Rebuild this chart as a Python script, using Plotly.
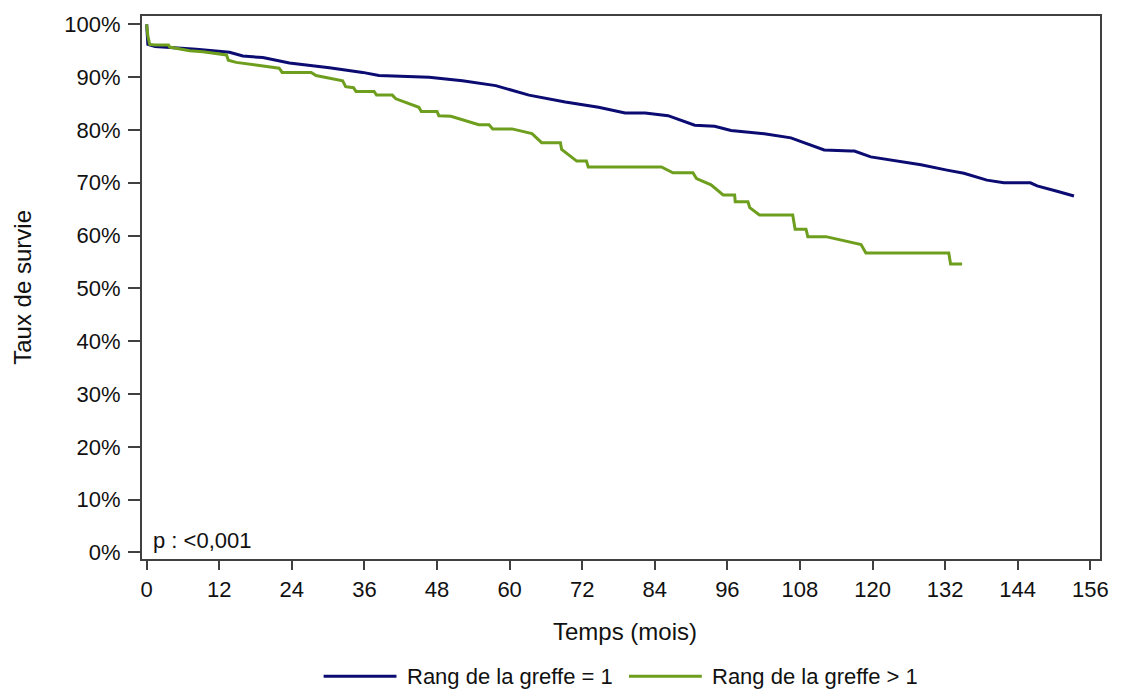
import plotly.graph_objects as go

# Data (months, survival %)
rang1_t = [0, 0.2, 1.4, 8.2, 13.7, 15.9, 19.2, 23.6, 30.2, 35.7, 38.4, 46.7, 52.2, 57.7,
           63.2, 69.2, 74.7, 79.1, 82.4, 86.2, 90.6, 93.9, 96.6, 102.1, 106.5, 112.0,
           116.4, 117.0, 119.7, 124.1, 128.0, 132.3, 135.1, 138.9, 141.7, 146.1, 147.2,
           150.5, 153.3]
rang1_s = [100, 96.2, 95.8, 95.3, 94.7, 94.0, 93.7, 92.7, 91.8, 90.9, 90.3, 90.0, 89.3, 88.4,
           86.6, 85.3, 84.3, 83.2, 83.2, 82.7, 80.9, 80.7, 79.9, 79.3, 78.5, 76.2,
           76.0, 76.0, 74.9, 74.1, 73.4, 72.4, 71.8, 70.5, 70.0, 70.0, 69.4,
           68.4, 67.5]

rang2_t = [0, 0.2, 0.5, 1.4, 3.6, 3.8, 7.1, 9.3, 13.2, 13.5, 14.8, 21.9, 22.4, 27.2, 28.0,
           32.4, 32.9, 34.2, 34.6, 37.6, 38.0, 40.6, 41.2, 45.0, 45.4, 48.0, 48.3, 50.3,
           54.9, 56.6, 57.2, 60.4, 63.7, 65.3, 68.4, 68.6, 71.1, 72.7, 73.0, 85.1, 87.0,
           90.3, 90.9, 93.3, 95.3, 97.2, 97.3, 99.4, 99.7, 101.3, 106.8, 107.2, 109.0,
           109.3, 112.3, 118.1, 118.9, 132.6, 132.9, 134.8]
rang2_s = [100, 97.8, 96.2, 96.1, 96.1, 95.7, 95.0, 94.8, 94.2, 93.2, 92.8, 91.7, 90.9, 90.9, 90.3,
           89.3, 88.2, 88.0, 87.3, 87.3, 86.6, 86.6, 85.9, 84.3, 83.5, 83.5, 82.7, 82.6,
           81.0, 81.0, 80.2, 80.2, 79.3, 77.6, 77.6, 76.3, 74.1, 74.1, 73.0, 73.0, 71.9,
           71.9, 70.8, 69.6, 67.7, 67.7, 66.4, 66.4, 65.3, 63.9, 63.9, 61.2, 61.2,
           59.8, 59.8, 58.3, 56.7, 56.7, 54.6, 54.6]

series_names = ["Rang de la greffe = 1", "Rang de la greffe > 1"]
colors = ["#0b0b72", "#6e9e1e"]

x_ticks = list(range(0, 157, 12))
y_ticks = list(range(0, 101, 10))
y_ticklabels = [f"{v}%" for v in y_ticks]

FONT = "Liberation Sans, Arial, sans-serif"
FS = 22
FT = 24

fig = go.Figure()
fig.add_trace(go.Scatter(x=rang1_t, y=rang1_s, mode="lines", name=series_names[0],
                         line=dict(color=colors[0], width=3), showlegend=False))
fig.add_trace(go.Scatter(x=rang2_t, y=rang2_s, mode="lines", name=series_names[1],
                         line=dict(color=colors[1], width=3), showlegend=False))

axis_col = "#404040"
fig.update_layout(
    width=1121, height=691,
    margin=dict(l=142, r=19, t=13, b=132),
    paper_bgcolor="white", plot_bgcolor="white",
    font=dict(family=FONT, size=FS, color="#111111"),
    xaxis=dict(range=[-0.77, 157.6], tickmode="array", tickvals=x_ticks,
               ticks="outside", ticklen=9, tickwidth=1.5, tickcolor=axis_col,
               showline=True, linecolor=axis_col, linewidth=2, mirror=True,
               showgrid=False, zeroline=False, tickfont=dict(size=FS),
               ticklabelstandoff=1),
    yaxis=dict(range=[-1.24, 101.58], tickmode="array", tickvals=y_ticks,
               ticktext=y_ticklabels,
               ticks="outside", ticklen=12, tickwidth=1.5, tickcolor=axis_col,
               showline=True, linecolor=axis_col, linewidth=2, mirror=True,
               showgrid=False, zeroline=False, tickfont=dict(size=FS),
               ticklabelstandoff=3),
)

annotations = [
    dict(text="Temps (mois)", xref="paper", yref="paper", x=(626 - 142) / 960,
         y=(559 - 632) / 546, xanchor="center", yanchor="middle", showarrow=False,
         font=dict(size=FT)),
    dict(text="Taux de survie", xref="paper", yref="paper", x=(22 - 142) / 960, y=0.5,
         xanchor="center", yanchor="middle", textangle=-90, showarrow=False,
         font=dict(size=FT)),
    dict(text="p : <0,001", xref="paper", yref="paper", x=(151 - 142) / 960,
         y=(559 - 540) / 546, xanchor="left", yanchor="middle", showarrow=False,
         font=dict(size=FS)),
]

# manual legend
leg_y = (559 - 677) / 546
leg_items = [(324, 397, 406), (630, 703, 711)]
shapes = []
for (x0, x1, xt), name, col in zip(leg_items, series_names, colors):
    shapes.append(dict(type="line", xref="paper", yref="paper",
                       x0=(x0 - 142) / 960, x1=(x1 - 142) / 960, y0=leg_y, y1=leg_y,
                       line=dict(color=col, width=3)))
    annotations.append(dict(text=name, xref="paper", yref="paper", x=(xt - 142) / 960,
                            y=leg_y, xanchor="left", yanchor="middle", showarrow=False,
                            font=dict(size=FS)))

fig.update_layout(annotations=annotations, shapes=shapes)
fig.write_html("out.html")
